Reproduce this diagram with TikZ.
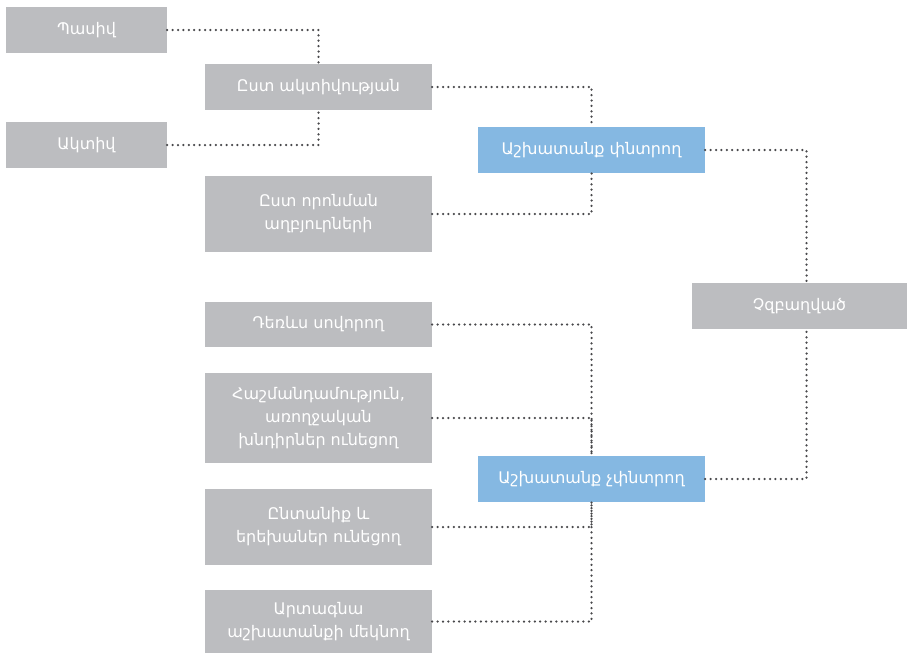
\documentclass[tikz,border=0pt]{standalone}
\usepackage{fontspec}
\setmainfont{DejaVu Sans}

\definecolor{boxgray}{HTML}{BCBDC0}
\definecolor{boxblue}{HTML}{85B8E2}
\definecolor{dotgray}{HTML}{48484B}

\begin{document}
\begin{tikzpicture}[x=1pt, y=-1pt,
    box/.style={fill=boxgray, text=white, align=center, inner sep=0pt,
        minimum width=227pt, minimum height=46pt,
        font=\fontsize{16}{23}\selectfont},
    bluebox/.style={box, fill=boxblue},
    link/.style={dotgray, line width=2.5pt, line cap=round,
        dash pattern=on 0pt off 5.4pt}]
    \useasboundingbox (0,0) rectangle (907,664);

    % leftmost column
    \node[box, minimum width=161pt] (passive) at (86.5,30) {Պասիվ};
    \node[box, minimum width=161pt] (active) at (86.5,145) {Ակտիվ};

    % second column
    \node[box] (byactivity) at (318.5,87) {Ըստ ակտիվության};
    \node[box, minimum height=76pt] (bysource) at (318.5,214) {Ըստ որոնման\\աղբյուրների};
    \node[box, minimum height=45pt] (student) at (318.5,324.5) {Դեռևս սովորող};
    \node[box, minimum height=90pt] (health) at (318.5,418) {Հաշմանդամություն,\\առողջական\\խնդիրներ ունեցող};
    \node[box, minimum height=76pt] (family) at (318.5,527) {Ընտանիք և\\երեխաներ ունեցող};
    \node[box, minimum height=63pt] (abroad) at (318.5,621.5) {Արտագնա\\աշխատանքի մեկնող};

    % job seekers or not
    \node[bluebox] (seeking) at (591.5,150) {Աշխատանք փնտրող};
    \node[bluebox] (notseeking) at (591.5,479) {Աշխատանք չփնտրող};

    % root
    \node[box, minimum width=215pt] (unemployed) at (799.5,306) {Չզբաղված};

    % dotted connectors
    \draw[link] (passive.east) -| (byactivity.north);
    \draw[link] (active.east) -| (byactivity.south);
    \draw[link] (byactivity.east) -| (seeking.north);
    \draw[link] (bysource.east) -| (seeking.south);
    \foreach \leaf in {student, health}
        \draw[link] (\leaf.east) -| (notseeking.north);
    \foreach \leaf in {family, abroad}
        \draw[link] (\leaf.east) -| (notseeking.south);
    \draw[link] (seeking.east) -| ([xshift=7pt]unemployed.north);
    \draw[link] (notseeking.east) -| ([xshift=7pt]unemployed.south);
\end{tikzpicture}
\end{document}
